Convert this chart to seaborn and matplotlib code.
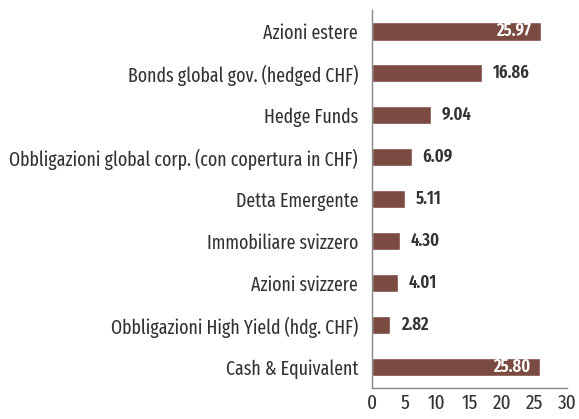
import matplotlib
matplotlib.use("Agg")
import matplotlib.pyplot as plt
import seaborn as sns
import pandas as pd

categories = [
    "Azioni estere",
    "Bonds global gov. (hedged CHF)",
    "Hedge Funds",
    "Obbligazioni global corp. (con copertura in CHF)",
    "Detta Emergente",
    "Immobiliare svizzero",
    "Azioni svizzere",
    "Obbligazioni High Yield (hdg. CHF)",
    "Cash & Equivalent",
]
values = [25.97, 16.86, 9.04, 6.09, 5.11, 4.30, 4.01, 2.82, 25.80]
x_ticks = [0, 5, 10, 15, 20, 25, 30]

sns.set_theme(style="white")
plt.rcParams["font.family"] = ["Fira Sans Extra Condensed", "DejaVu Sans"]

df = pd.DataFrame({"cat": categories, "val": values})
bar_color = "#7b4a40"
text_color = "#333333"

fig = plt.figure(figsize=(5.79, 4.19), dpi=100)
ax = fig.add_axes([0.6425, 0.074, 0.3368, 0.902])
sns.barplot(data=df, x="val", y="cat", color=bar_color, saturation=1,
            width=0.45, ax=ax)

ax.set_xlim(0, 30)
ax.set_ylim(8.5, -0.5)
ax.set_xticks(x_ticks)
ax.set_xticklabels([str(t) for t in x_ticks], fontsize=15, color=text_color)
ax.set_yticklabels(categories, fontsize=14, color=text_color)
ax.tick_params(axis="y", length=0, pad=10)
ax.tick_params(axis="x", length=0, pad=4)
ax.set_xlabel("")
ax.set_ylabel("")

for s in ["top", "right"]:
    ax.spines[s].set_visible(False)
for s in ["left", "bottom"]:
    ax.spines[s].set_color("#888888")
    ax.spines[s].set_linewidth(1)

# etichette dei valori
for i, v in enumerate(values):
    if v > 20:
        ax.text(v - 1.5, i, f"{v:.2f}", ha="right", va="center",
                color="white", fontsize=13, fontweight="semibold")
    else:
        ax.text(v + 1.7, i, f"{v:.2f}", ha="left", va="center",
                color=text_color, fontsize=13, fontweight="semibold")

fig.savefig("out.png", dpi=100)
